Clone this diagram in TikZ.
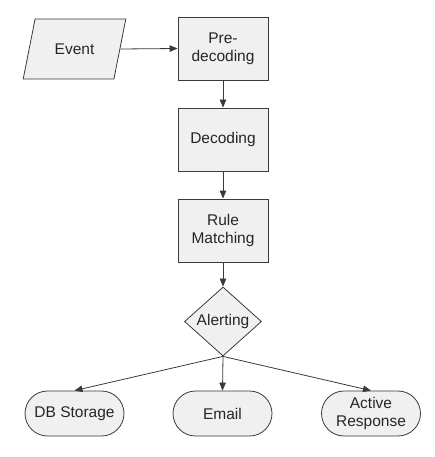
\documentclass[tikz,border=0pt]{standalone}
\usepackage{fontspec}
\setmainfont{Liberation Sans}
\usetikzlibrary{shapes.geometric,shapes.misc,arrows.meta}
\definecolor{boxfill}{HTML}{F0F0F0}
\definecolor{boxline}{HTML}{3A3A3A}
\begin{document}
\begin{tikzpicture}[x=1pt,y=-1pt,line cap=butt,line join=miter,>={Triangle[length=8pt,width=6.5pt]},
		font=\fontsize{15.5}{18}\selectfont]
		\tikzset{base/.style={draw=boxline,fill=boxfill,line width=0.8pt,text=black!85,align=center,inner sep=0pt},
			procbox/.style={base,rectangle,minimum width=90pt,minimum height=63pt},
			iobox/.style={base,trapezium,trapezium left angle=61,trapezium right angle=119,
				trapezium stretches=true,minimum width=103pt,minimum height=60pt},
			decbox/.style={base,diamond,minimum width=77pt,minimum height=69pt},
			endbox/.style={base,rounded rectangle,minimum width=99pt,minimum height=45pt},
			flow/.style={->,draw=boxline,line width=0.8pt}}
		\useasboundingbox (0,0) rectangle (434,457);
		\node[iobox] (event) at (74.5,49) {Event};
		\node[procbox] (predec) at (223,48.5) {Pre-\\decoding};
		\node[procbox] (dec) at (223,139.5) {Decoding};
		\node[procbox] (rule) at (223,230.5) {Rule\\Matching};
		\node[decbox] (alert) at (223,321.5) {Alerting};
		%--------- Ausgaben
		\node[endbox] (db) at (74.5,413.5) {DB Storage};
		\node[endbox] (mail) at (222.5,413.5) {Email};
		\node[endbox] (resp) at (371,413.5) {Active\\Response};
		\draw[flow] (event.east) -- (predec.west);
		\draw[flow] (predec) -- (dec);
		\draw[flow] (dec) -- (rule);
		\draw[flow] (rule) -- (alert);
		\draw[flow] (alert.south) -- (db.north);
		\draw[flow] (alert.south) -- (mail.north);
		\draw[flow] (alert.south) -- (resp.north);
	\end{tikzpicture}
\end{document}
